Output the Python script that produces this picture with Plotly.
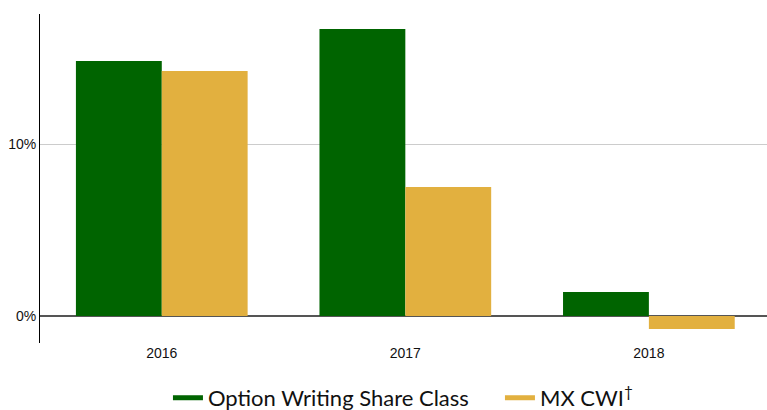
import plotly.graph_objects as go

years = ["2016", "2017", "2018"]
option_writing = [14.83, 16.69, 1.40]
mx_cwi = [14.24, 7.50, -0.76]
series_names = ["Option Writing Share Class", "MX CWI<sup>†</sup>"]
colors = ["#006400", "#E2B03F"]
y_tickvals = [0, 10]
y_ticktext = ["0%", "10%"]

fig = go.Figure()
for name, vals, c in zip(series_names, [option_writing, mx_cwi], colors):
    fig.add_trace(go.Bar(x=years, y=vals, marker=dict(color=c, line=dict(width=0)),
                         showlegend=False, hoverinfo="skip"))
for name, c in zip(series_names, colors):
    fig.add_trace(go.Scatter(x=[None], y=[None], mode="lines", name=name,
                             line=dict(color=c, width=5)))

fig.update_layout(
    width=767, height=410,
    margin=dict(l=40, r=0, t=14, b=67, autoexpand=False),
    paper_bgcolor="white", plot_bgcolor="white",
    barmode="group", bargap=0.295, bargroupgap=0,
    font=dict(family="Liberation Sans", size=14, color="#111"),
    xaxis=dict(type="category", showgrid=False, ticks="", showline=False,
               tickfont=dict(family="Liberation Sans", size=14, color="#111"),
               range=[-0.5, 2.485], automargin=False),
    yaxis=dict(range=[-1.57, 17.56], tickmode="array", tickvals=y_tickvals,
               ticktext=y_ticktext,
               showgrid=True, gridcolor="#CCCCCC", gridwidth=1,
               zeroline=True, zerolinecolor="#555555", zerolinewidth=1.5,
               showline=True, linecolor="#000000", linewidth=1,
               ticks="", tickfont=dict(family="Liberation Sans", size=14, color="#111"),
               automargin=False),
    legend=dict(orientation="h", x=0.176, xanchor="left", y=-0.167, yanchor="middle",
                font=dict(family="Lato", size=22, color="#111"),
                itemwidth=30, traceorder="normal", tracegroupgap=0,
                entrywidth=287, entrywidthmode="pixels"),
)
fig.write_html("out.html", config={"displayModeBar": False},
               post_script="document.body.style.margin='0';document.body.style.padding='0';")
